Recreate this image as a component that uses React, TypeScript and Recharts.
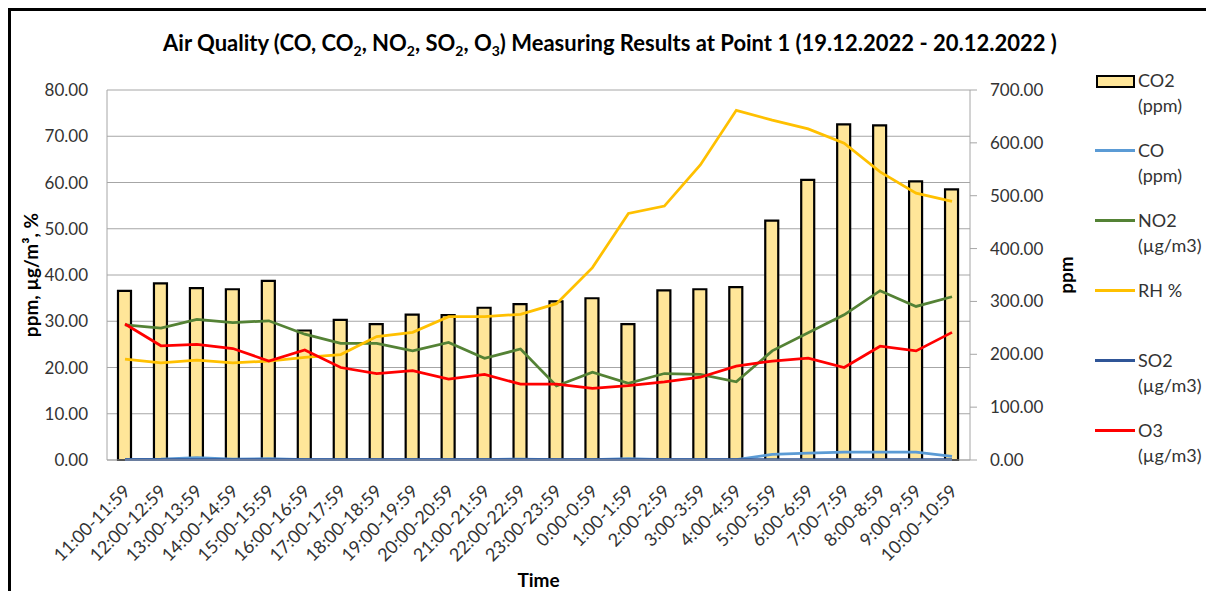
import React from 'react';
import { ComposedChart, Bar, Line, XAxis, YAxis, CartesianGrid, Legend } from 'recharts';

const categories = [
  '11:00-11:59', '12:00-12:59', '13:00-13:59', '14:00-14:59', '15:00-15:59', '16:00-16:59',
  '17:00-17:59', '18:00-18:59', '19:00-19:59', '20:00-20:59', '21:00-21:59', '22:00-22:59',
  '23:00-23:59', '0:00-0:59', '1:00-1:59', '2:00-2:59', '3:00-3:59', '4:00-4:59',
  '5:00-5:59', '6:00-6:59', '7:00-7:59', '8:00-8:59', '9:00-9:59', '10:00-10:59',
];
const co2Values = [320, 334, 325, 323, 339, 245, 265, 257, 275, 274, 288, 295, 300, 306, 257, 321, 323, 327, 453, 530, 635, 633, 527, 512];
const coValues = [0.1, 0.2, 0.5, 0.2, 0.3, 0.1, 0.1, 0.1, 0.1, 0.1, 0.1, 0.2, 0.1, 0.1, 0.3, 0.1, 0.1, 0.1, 1.2, 1.5, 1.7, 1.7, 1.7, 0.8];
const no2Values = [29.2, 28.5, 30.4, 29.7, 30.1, 27.2, 25.2, 25.2, 23.6, 25.4, 22.0, 24.0, 16.0, 19.0, 16.6, 18.7, 18.5, 16.9, 23.6, 27.5, 31.4, 36.6, 33.2, 35.3];
const rhValues = [21.8, 21.0, 21.6, 21.0, 21.4, 22.2, 22.8, 26.7, 27.6, 31.0, 31.0, 31.5, 33.8, 41.6, 53.3, 54.9, 63.8, 75.6, 73.5, 71.6, 68.5, 62.3, 57.7, 55.9];
const so2Values = [0.1, 0.1, 0.1, 0.1, 0.1, 0.1, 0.1, 0.1, 0.1, 0.1, 0.1, 0.1, 0.1, 0.1, 0.1, 0.1, 0.1, 0.1, 0.1, 0.1, 0.1, 0.1, 0.1, 0.1];
const o3Values = [29.4, 24.7, 25.0, 24.1, 21.4, 23.8, 20.0, 18.7, 19.3, 17.5, 18.5, 16.4, 16.4, 15.5, 16.1, 16.9, 17.9, 20.3, 21.4, 22.0, 20.0, 24.6, 23.6, 27.6];

const leftTicks = [0, 10, 20, 30, 40, 50, 60, 70, 80];
const rightTicks = [0, 100, 200, 300, 400, 500, 600, 700];

const legendItems = [
  { lines: ['CO2', '(ppm)'], color: '#FFE699', kind: 'bar' },
  { lines: ['CO', '(ppm)'], color: '#5B9BD5', kind: 'line' },
  { lines: ['NO2', '(µg/m3)'], color: '#548235', kind: 'line' },
  { lines: ['RH %'], color: '#FFC000', kind: 'line' },
  { lines: ['SO2', '(µg/m3)'], color: '#2F5597', kind: 'line' },
  { lines: ['O3', '(µg/m3)'], color: '#FF0000', kind: 'line' },
];

const data = categories.map((c, i) => ({
  time: c,
  co2: co2Values[i],
  co: coValues[i],
  no2: no2Values[i],
  rh: rhValues[i],
  so2: so2Values[i],
  o3: o3Values[i],
}));

const FONT = 'Lato, "Liberation Sans", sans-serif';
const TEXT = '#333333';

const XTick = (props: any) => {
  const { x, y, payload } = props;
  return (
    <g transform={`translate(${x + 2},${y + 28})`}>
      <text transform="rotate(-45)" textAnchor="end" dy="0.35em" fontSize={18} fill={TEXT} fontFamily={FONT}>
        {payload.value}
      </text>
    </g>
  );
};

const LegendContent = () => (
  <div style={{ fontFamily: FONT, fontSize: 18, color: TEXT }}>
    {legendItems.map((it, i) => (
      <div key={i} style={{ height: 70, position: 'relative' }}>
        {it.kind === 'bar' ? (
          <div style={{ position: 'absolute', left: 1, top: 7, width: 35, height: 9, background: it.color, border: '2px solid #000' }} />
        ) : (
          <div style={{ position: 'absolute', left: 0, top: 11, width: 40, height: 3, background: it.color }} />
        )}
        <div style={{ position: 'absolute', left: 43, top: 0, lineHeight: '25px', whiteSpace: 'nowrap' }}>
          {it.lines.map((l, j) => (
            <div key={j}>{l}</div>
          ))}
        </div>
      </div>
    ))}
  </div>
);

export default function App() {
  return (
    <div
      style={{
        position: 'relative',
        width: 1206,
        height: 583,
        borderTop: '3px solid #000',
        borderLeft: '3px solid #000',
        boxSizing: 'border-box',
        background: '#fff',
        overflow: 'hidden',
        fontFamily: FONT,
      }}
    >
      <div
        style={{
          position: 'absolute',
          left: 0,
          width: 1198,
          top: 18,
          textAlign: 'center',
          fontWeight: 700,
          fontSize: 22,
          lineHeight: '28px',
          color: '#000',
          zIndex: 2,
        }}
      >
        Air Quality (CO, CO<sub style={{ fontSize: 14 }}>2</sub>, NO<sub style={{ fontSize: 14 }}>2</sub>, SO
        <sub style={{ fontSize: 14 }}>2</sub>, O<sub style={{ fontSize: 14 }}>3</sub>) Measuring Results at Point 1 (19.12.2022 - 20.12.2022 )
      </div>
      <ComposedChart
        width={1203}
        height={580}
        data={data}
        margin={{ top: 79, right: 144, bottom: 21, left: 0 }}
      >
        <CartesianGrid yAxisId="left" vertical={false} stroke="#a6a6a6" strokeWidth={1} />
        <XAxis
          dataKey="time"
          interval={0}
          height={110}
          tickSize={0}
          tickMargin={0}
          tick={<XTick />}
          axisLine={{ stroke: '#a6a6a6' }}
          tickLine={false}
          label={(p: any) => {
            const vb = p.viewBox;
            return (
              <text x={vb.x + vb.width / 2} y={568} textAnchor="middle" dominantBaseline="central" fontSize={19} fontWeight={700} fill="#000" fontFamily={FONT}>
                Time
              </text>
            );
          }}
        />
        <YAxis
          yAxisId="left"
          orientation="left"
          width={96}
          domain={[0, 80]}
          ticks={leftTicks}
          interval={0}
          tickFormatter={(v: number) => v.toFixed(2)}
          tick={{ fontSize: 17, fill: TEXT, fontFamily: FONT }}
          tickSize={0}
          tickMargin={19}
          tickLine={false}
          axisLine={{ stroke: '#a6a6a6' }}
          label={(p: any) => {
            const vb = p.viewBox;
            const cy = vb.y + vb.height / 2;
            return (
              <text x={19} y={cy} transform={`rotate(-90 19 ${cy})`} textAnchor="middle" dominantBaseline="central" fontSize={19} fontWeight={700} fill="#000" fontFamily={FONT}>
                ppm, µg/m³, %
              </text>
            );
          }}
        />
        <YAxis
          yAxisId="right"
          orientation="right"
          width={100}
          domain={[0, 700]}
          ticks={rightTicks}
          interval={0}
          tickFormatter={(v: number) => v.toFixed(2)}
          tick={{ fontSize: 17, fill: TEXT, fontFamily: FONT }}
          tickSize={7}
          tickMargin={13}
          tickLine={{ stroke: '#a6a6a6' }}
          axisLine={{ stroke: '#a6a6a6' }}
          label={(p: any) => {
            const vb = p.viewBox;
            const cy = vb.y + vb.height / 2;
            const lx = vb.x + 95;
            return (
              <text x={lx} y={cy} transform={`rotate(-90 ${lx} ${cy})`} textAnchor="middle" dominantBaseline="central" fontSize={19} fontWeight={700} fill="#000" fontFamily={FONT}>
                ppm
              </text>
            );
          }}
        />
        <Legend
          layout="vertical"
          align="center"
          verticalAlign="middle"
          content={<LegendContent />}
          wrapperStyle={{ left: 1084, top: 57, width: 120, height: 420 }}
        />
        <Bar yAxisId="right" dataKey="co2" name="CO2 (ppm)" barSize={13} fill="#FFE699" stroke="#000" strokeWidth={2.2} isAnimationActive={false} />
        <Line yAxisId="left" type="linear" dataKey="co" name="CO (ppm)" stroke="#5B9BD5" strokeWidth={2.75} dot={false} isAnimationActive={false} />
        <Line yAxisId="left" type="linear" dataKey="no2" name="NO2 (µg/m3)" stroke="#548235" strokeWidth={2.75} dot={false} isAnimationActive={false} />
        <Line yAxisId="left" type="linear" dataKey="rh" name="RH %" stroke="#FFC000" strokeWidth={2.75} dot={false} isAnimationActive={false} />
        <Line yAxisId="left" type="linear" dataKey="so2" name="SO2 (µg/m3)" stroke="#2F5597" strokeWidth={2.75} dot={false} isAnimationActive={false} />
        <Line yAxisId="left" type="linear" dataKey="o3" name="O3 (µg/m3)" stroke="#FF0000" strokeWidth={2.75} dot={false} isAnimationActive={false} />
      </ComposedChart>
    </div>
  );
}
